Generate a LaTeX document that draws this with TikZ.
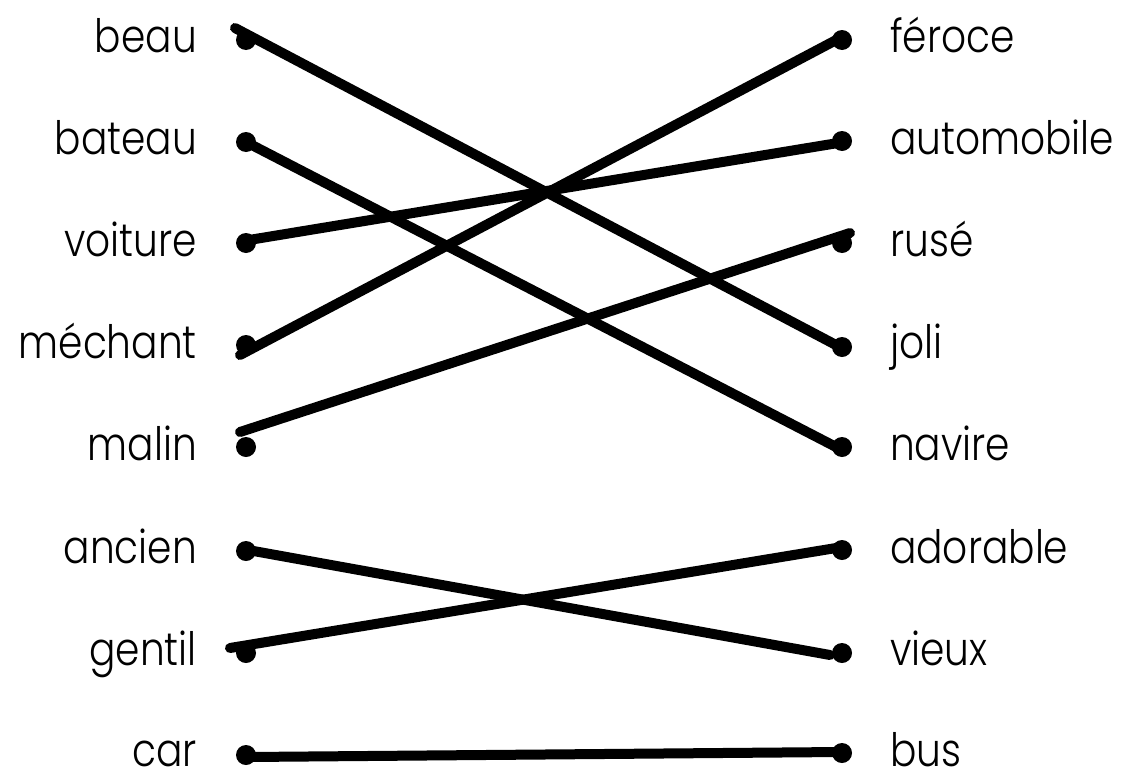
\documentclass[tikz,border=0pt]{standalone}
\usepackage{fontspec}
\setmainfont{Poppins}[UprightFont=* Light,FakeStretch=0.85]
\begin{document}
\begin{tikzpicture}[x=1pt,y=-1pt,
  dot/.style={circle,fill=black,inner sep=0pt,minimum size=20pt},
  lft/.style={anchor=base east,inner sep=0pt,font=\fontsize{46}{50}\selectfont},
  rgt/.style={anchor=base west,inner sep=0pt,font=\fontsize{46}{50}\selectfont},
  link/.style={line width=10pt,line cap=round}]
\useasboundingbox (0,0) rectangle (1129,771);
% left dots
\node[dot] (l1) at (246,40) {};
\node[dot] (l2) at (246,142) {};
\node[dot] (l3) at (246,243) {};
\node[dot] (l4) at (246,345) {};
\node[dot] (l5) at (246,447) {};
\node[dot] (l6) at (246,551) {};
\node[dot] (l7) at (246,653) {};
\node[dot] (l8) at (246,755) {};
% right dots
\node[dot] (r1) at (842,40) {};
\node[dot] (r2) at (842,141) {};
\node[dot] (r3) at (842,243) {};
\node[dot] (r4) at (842,347) {};
\node[dot] (r5) at (842,447) {};
\node[dot] (r6) at (842,550) {};
\node[dot] (r7) at (842,653) {};
\node[dot] (r8) at (842,753) {};
% left labels
\node[lft] (t1) at (197,52) {beau};
\node[lft] (t2) at (197,154) {bateau};
\node[lft] (t3) at (197,256) {voiture};
\node[lft] (t4) at (197,358) {méchant};
\node[lft] (t5) at (197,460) {malin};
\node[lft] (t6) at (197,563) {ancien};
\node[lft] (t7) at (197,665) {gentil};
\node[lft] (t8) at (197,766) {car};
% right labels
\node[rgt] (u1) at (890,52) {féroce};
\node[rgt] (u2) at (890,154) {automobile};
\node[rgt] (u3) at (890,256) {rusé};
\node[rgt] (u4) at (890,358) {joli};
\node[rgt] (u5) at (890,460) {navire};
\node[rgt] (u6) at (890,563) {adorable};
\node[rgt] (u7) at (890,665) {vieux};
\node[rgt] (u8) at (890,766) {bus};
% connectors
\draw[link] ([shift={(-11,-12)}]l1.center) -- ([shift={(-6,-2)}]r4.center);
\draw[link] (l2.center) -- ([shift={(-4,1)}]r5.center);
\draw[link] ([shift={(3,-3)}]l3.center) -- ([shift={(-4,2)}]r2.center);
\draw[link] ([shift={(-6,10)}]l4.center) -- ([shift={(-2,-2)}]r1.center);
\draw[link] ([shift={(-6,-15)}]l5.center) -- ([shift={(8,-10)}]r3.center);
\draw[link] ([shift={(2,-1)}]l6.center) -- ([shift={(-12,2)}]r7.center);
\draw[link] ([shift={(-16,-5)}]l7.center) -- ([shift={(-6,-2)}]r6.center);
\draw[link] ([shift={(2,2)}]l8.center) -- ([shift={(-2,-1)}]r8.center);
\end{tikzpicture}
\end{document}
